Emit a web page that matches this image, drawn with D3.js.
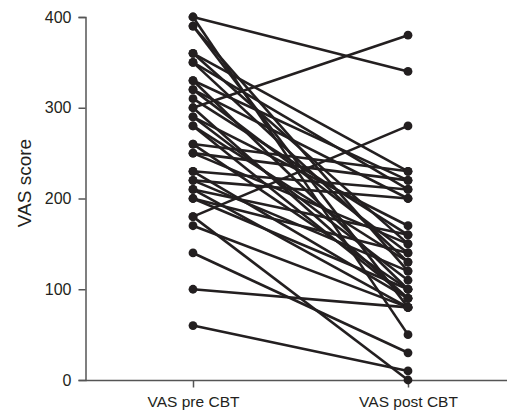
<!DOCTYPE html>
<meta charset="utf-8">
<head>
<title>VAS score pre / post CBT</title>
<style>
  body { margin: 0; background: #fff; }
  text { font-family: "Liberation Sans", Arial, sans-serif; fill: #231f20; }
</style>
</head>
<body>
<div id="chart"></div>
<script src="https://d3js.org/d3.v7.min.js"></script>
<script>

// groups on the x axis
var groups = ["VAS pre CBT", "VAS post CBT"];
// y axis ticks
var yTicks = [0, 100, 200, 300, 400];
// one entry per subject: score before and after CBT
var preScores  = [400, 400, 390, 390, 360, 360, 350, 350, 330, 330, 320, 320, 310, 300, 300, 290, 290, 280, 280,
                  260, 260, 250, 250, 230, 230, 220, 220, 210, 210, 200, 200, 180, 180, 170, 140, 100, 60];
var postScores = [340, 50, 80, 120, 230, 150, 210, 130, 220, 100, 200, 140, 160, 380, 90, 170, 110, 130, 90,
                  230, 100, 220, 150, 210, 90, 200, 120, 160, 80, 140, 100, 280, 0, 80, 30, 80, 10];

var width = 507, height = 411;

var svg = d3.select("#chart")
  .append("svg")
    .attr("width", width)
    .attr("height", height);

var x = d3.scalePoint()
  .domain(groups)
  .range([193, 408]);

var y = d3.scaleLinear()
  .domain([0, 400])
  .range([380, 17]);

// y axis
var yAxis = svg.append("g")
  .attr("transform", "translate(85.5,0)")
  .call(d3.axisLeft(y).tickValues(yTicks).tickSize(7).tickPadding(7));
yAxis.select(".domain").attr("stroke", "#555").attr("stroke-width", 1.5);
yAxis.selectAll(".tick line").attr("stroke", "#555").attr("stroke-width", 1.5);
yAxis.selectAll(".tick text").style("font-size", "16px").attr("fill", "#231f20");

// x axis: baseline spans whole width
var xAxis = svg.append("g")
  .attr("transform", "translate(0,380.5)")
  .call(d3.axisBottom(x).tickSize(7).tickPadding(8));
xAxis.select(".domain").remove();
xAxis.append("line")
  .attr("x1", 85.5).attr("x2", width)
  .attr("stroke", "#555").attr("stroke-width", 1.5);
xAxis.selectAll(".tick line").attr("stroke", "#555").attr("stroke-width", 1.5);
xAxis.selectAll(".tick text").style("font-size", "15.5px").attr("fill", "#231f20");

svg.append("text")
  .attr("text-anchor", "middle")
  .attr("transform", "translate(31,183) rotate(-90)")
  .style("font-size", "19px")
  .text("VAS score");

var pairs = preScores.map(function(d, i) { return {pre: d, post: postScores[i]}; });

svg.append("g").selectAll("line")
  .data(pairs)
  .enter().append("line")
    .attr("x1", x(groups[0]))
    .attr("y1", function(d) { return y(d.pre); })
    .attr("x2", x(groups[1]))
    .attr("y2", function(d) { return y(d.post); })
    .attr("stroke", "#231f20")
    .attr("stroke-width", 2.6);

svg.append("g").selectAll("circle")
  .data(preScores)
  .enter().append("circle")
    .attr("cx", x(groups[0]))
    .attr("cy", function(d) { return y(d); })
    .attr("r", 4.4)
    .attr("fill", "#231f20");

svg.append("g").selectAll("circle")
  .data(postScores)
  .enter().append("circle")
    .attr("cx", x(groups[1]))
    .attr("cy", function(d) { return y(d); })
    .attr("r", 4.4)
    .attr("fill", "#231f20");

</script>
</body>
